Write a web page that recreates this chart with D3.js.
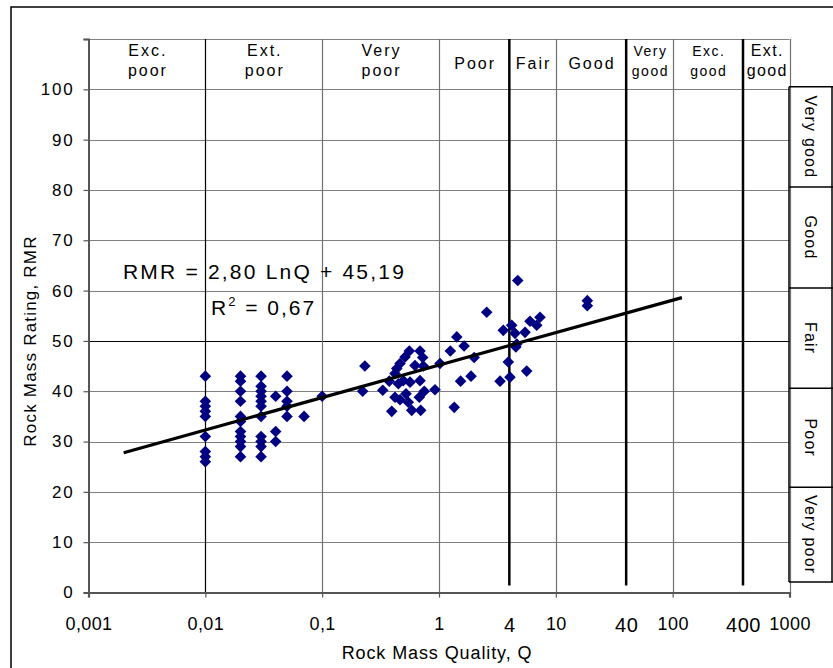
<!DOCTYPE html>
<html>
<head>
<meta charset="utf-8">
<script src="https://cdn.jsdelivr.net/npm/d3@7"></script>
<style>
  html, body { margin: 0; padding: 0; background: #fff; }
  svg { display: block; font-family: "Liberation Sans", Arial, sans-serif; }
</style>
</head>
<body>
<svg id="chart" width="833" height="668"></svg>
<script>
// ---------- data ----------
const xDecades = [0.001, 0.01, 0.1, 1, 10, 100, 1000];
const xDecadeLabels = ["0,001", "0,01", "0,1", "1", "10", "100", "1000"];
const classBounds = [4, 40, 400];
const classBoundLabels = ["4", "40", "400"];
const yTicks = [0, 10, 20, 30, 40, 50, 60, 70, 80, 90, 100, 110];

// Q-class labels along the top (between boundaries)
const qClassNames = [["Exc.", "poor"], ["Ext.", "poor"], ["Very", "poor"], ["Poor"], ["Fair"], ["Good"], ["Very", "good"], ["Exc.", "good"], ["Ext.", "good"]];
const qClassFrom = [0.001, 0.01, 0.1, 1, 4, 10, 40, 100, 400];
const qClassTo   = [0.01, 0.1, 1, 4, 10, 40, 100, 400, 1000];

// RMR-class labels on the right
const rmrClassNames = ["Very good", "Good", "Fair", "Poor", "Very poor"];
const rmrClassEdges = [100.5, 80.6, 60.5, 40.6, 20.9, 2.1];

// Observations: Rock Mass Quality Q and Rock Mass Rating RMR
const qValues = [
  0.01, 0.01, 0.01, 0.01, 0.01, 0.01, 0.01, 0.01, 0.01,
  0.02, 0.02, 0.02, 0.02, 0.02, 0.02, 0.02, 0.02, 0.02, 0.02, 0.02,
  0.03, 0.03, 0.03, 0.03, 0.03, 0.03, 0.03, 0.03, 0.03, 0.03, 0.03,
  0.04, 0.04, 0.04,
  0.05, 0.05, 0.05, 0.05, 0.05,
  0.07, 0.1,
  0.232, 0.222, 0.33, 0.375, 0.394, 0.42, 0.42, 0.435, 0.449, 0.464, 0.464,
  0.495, 0.512, 0.522, 0.546, 0.557, 0.565, 0.584, 0.623, 0.678, 0.688, 0.688,
  0.697, 0.725, 0.734, 0.748, 0.924, 1.02, 1.25, 1.42, 1.35, 1.53, 1.64, 1.88, 2.0, 2.56,
  3.55, 4.19, 4.47, 4.63, 4.55, 5.45, 6.01, 7.32, 6.86, 3.92, 5.63, 4.05, 3.33, 4.72,
  18.6, 18.6
];
const rmrValues = [
  43, 38, 37, 36, 35, 31, 28, 27, 26,
  43, 42, 40, 38, 35, 34, 32, 31, 30, 29, 27,
  43, 41, 40, 39, 38, 37, 35, 31, 30, 29, 27,
  39, 32, 30,
  43, 40, 38, 37, 35,
  35, 39,
  45, 40, 40.2, 42, 36, 43.5, 38.8, 44.5, 41.5, 45.5, 38.3,
  42.1, 46.8, 39.5, 37.8, 48, 41.8, 36.2, 45.1, 38.8, 48, 42.1,
  36.2, 46.7, 45, 40, 40.3, 45.5, 48, 50.8, 36.8, 42, 49, 43, 46.7, 55.7,
  52.1, 53.1, 51.5, 49.4, 48.8, 51.7, 53.9, 54.7, 53.1, 45.8, 44, 42.8, 42, 62,
  58, 57
];

// Trend line RMR = 2,80 LnQ + 45,19, drawn over Q range
const trendCoef = [2.80, 45.19];
const trendQRange = [0.002, 120];
const equationText = "RMR = 2,80 LnQ + 45,19";
const r2Text = "0,67";

// ---------- drawing ----------
const svg = d3.select("#chart");
const x = d3.scaleLog().domain([0.001, 1000]).range([88.5, 789.5]);
const y = d3.scaleLinear().domain([0, 110]).range([592.5, 39]);

// outer frame
svg.append("rect").attr("x", 11).attr("y", 7).attr("width", 840).attr("height", 690)
  .attr("fill", "none").attr("stroke", "#000").attr("stroke-width", 1.5);

// horizontal gridlines
svg.append("g").selectAll("line").data(yTicks.filter(d => d > 0)).join("line")
  .attr("x1", x(0.001)).attr("x2", x(1000))
  .attr("y1", d => Math.round(y(d)) + 0.5).attr("y2", d => Math.round(y(d)) + 0.5)
  .attr("stroke", d => d === 50 ? "#000" : "#808080").attr("stroke-width", 1.2);

// vertical decade gridlines
svg.append("g").selectAll("line").data(xDecades.slice(1)).join("line")
  .attr("x1", d => Math.round(x(d)) + 0.5).attr("x2", d => Math.round(x(d)) + 0.5)
  .attr("y1", y(110)).attr("y2", y(0))
  .attr("stroke", d => d === 0.01 ? "#000" : "#707070").attr("stroke-width", 1.2);

// thick class boundaries 4, 40, 400
svg.append("g").selectAll("line").data(classBounds).join("line")
  .attr("x1", d => x(d)).attr("x2", d => x(d))
  .attr("y1", y(110)).attr("y2", y(1.4))
  .attr("stroke", "#000").attr("stroke-width", 2.5);

// x axis
const xAxis = d3.axisBottom(x).tickValues(xDecades)
  .tickFormat((d, i) => xDecadeLabels[i]).tickSize(5).tickPadding(20);
const gx = svg.append("g").attr("transform", `translate(0,${y(0)})`).call(xAxis);
gx.select(".domain").attr("stroke", "#555").attr("stroke-width", 2.2);
gx.selectAll(".tick line").attr("stroke", "#555").attr("stroke-width", 1.2);
gx.selectAll(".tick text").attr("font-size", 18).attr("fill", "#000")
  .attr("letter-spacing", 0.4).attr("font-family", "'Liberation Sans', sans-serif");

// extra labels 4, 40, 400
svg.append("g").selectAll("text").data(classBounds).join("text")
  .attr("x", d => x(d) + 0.5).attr("y", 632)
  .attr("text-anchor", "middle").attr("font-size", 20).attr("letter-spacing", 0.6)
  .text((d, i) => classBoundLabels[i]);

// y axis
const yAxis = d3.axisLeft(y).tickValues(yTicks)
  .tickFormat(d => d === 110 ? "" : d).tickSize(5).tickPadding(9);
const gy = svg.append("g").attr("transform", `translate(${x(0.001)},0)`).call(yAxis);
gy.select(".domain").attr("stroke", "#555").attr("stroke-width", 2);
gy.selectAll(".tick line").attr("stroke", "#555").attr("stroke-width", 1.2);
gy.selectAll(".tick text").attr("font-size", 17).attr("fill", "#000").attr("letter-spacing", 1.8);

// axis titles
svg.append("text").attr("x", 437).attr("y", 659).attr("text-anchor", "middle")
  .attr("font-size", 18).attr("letter-spacing", 0.9)
  .text("Rock Mass Quality, Q");
svg.append("text").attr("transform", "translate(36,341) rotate(-90)")
  .attr("text-anchor", "middle").attr("font-size", 17).attr("letter-spacing", 1.2)
  .text("Rock Mass Rating, RMR");

// top band labels
const band = svg.append("g");
qClassNames.forEach((lines, i) => {
  const cx = (x(qClassFrom[i]) + x(qClassTo[i])) / 2 + 1;
  const small = i === 6 || i === 7;
  const fs = small ? 14 : 16;
  if (lines.length === 1) {
    band.append("text").attr("x", cx).attr("y", 69).attr("text-anchor", "middle")
      .attr("font-size", fs).attr("letter-spacing", 2).text(lines[0]);
  } else {
    lines.forEach((t, j) => {
      band.append("text").attr("x", cx).attr("y", 56 + j * 20).attr("text-anchor", "middle")
        .attr("font-size", fs).attr("letter-spacing", small ? 1.5 : (i === 8 ? 1.4 : 2)).text(t);
    });
  }
});

// right-hand RMR class boxes
const rb = svg.append("g");
const bx0 = 789, bx1 = 832;
rb.append("line").attr("x1", bx0).attr("x2", bx0).attr("y1", y(rmrClassEdges[0])).attr("y2", y(rmrClassEdges[5]))
  .attr("stroke", "#000").attr("stroke-width", 1.5);
rb.append("line").attr("x1", bx1).attr("x2", bx1).attr("y1", y(rmrClassEdges[0])).attr("y2", y(rmrClassEdges[5]))
  .attr("stroke", "#000").attr("stroke-width", 1.5);
rb.selectAll("line.edge").data(rmrClassEdges).join("line").attr("class", "edge")
  .attr("x1", bx0).attr("x2", 833).attr("y1", d => y(d)).attr("y2", d => y(d))
  .attr("stroke", "#000").attr("stroke-width", 1.5);
rb.selectAll("text").data(rmrClassNames).join("text")
  .attr("transform", (d, i) => `translate(${(bx0 + bx1) / 2 - 6},${(y(rmrClassEdges[i]) + y(rmrClassEdges[i + 1])) / 2}) rotate(90)`)
  .attr("text-anchor", "middle").attr("font-size", 16).attr("letter-spacing", 1.2).text(d => d);

// data points (diamonds)
const pts = qValues.map((q, i) => ({ q, r: rmrValues[i] }));
svg.append("g").selectAll("path").data(pts).join("path")
  .attr("transform", d => `translate(${x(d.q)},${y(d.r)})`)
  .attr("d", "M0,-5.8L5.8,0L0,5.8L-5.8,0Z")
  .attr("fill", "#000080");

// trend line
const trendPts = trendQRange.map(q => [q, trendCoef[0] * Math.log(q) + trendCoef[1]]);
svg.append("path").datum(trendPts)
  .attr("d", d3.line().x(d => x(d[0])).y(d => y(d[1])))
  .attr("stroke", "#000").attr("stroke-width", 3.2).attr("fill", "none");

// equation text
svg.append("text").attr("x", 123).attr("y", 279).attr("font-size", 21).attr("letter-spacing", 2.2).text(equationText);
const r2 = svg.append("text").attr("x", 211).attr("y", 315).attr("font-size", 21).attr("letter-spacing", 2);
r2.append("tspan").text("R");
r2.append("tspan").attr("font-size", 13).attr("dy", -9).text("2");
r2.append("tspan").attr("dy", 9).text(" = " + r2Text);
</script>
</body>
</html>
